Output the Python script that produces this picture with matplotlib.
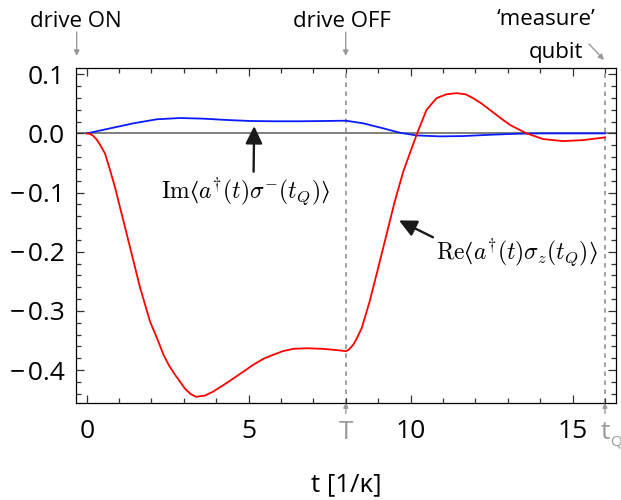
import matplotlib

matplotlib.use("Agg")
import matplotlib.pyplot as plt  # noqa: E402
from matplotlib.patches import FancyArrowPatch  # noqa: E402
from matplotlib.ticker import FixedLocator, MultipleLocator  # noqa: E402

# curvas (t em unidades de 1/kappa)
t_re = [0.0, 0.1, 0.2, 0.3, 0.4, 0.565, 0.7, 0.873, 1.0, 1.13, 1.39, 1.65,
        1.95, 2.2, 2.37, 2.55, 2.73, 3.03, 3.2, 3.37, 3.65, 3.91, 4.2, 4.53,
        4.85, 5.14, 5.45, 5.76, 6.05, 6.38, 6.79, 7.3, 7.7, 8.0, 8.1, 8.23,
        8.35, 8.49, 8.74, 9.0, 9.26, 9.51, 9.77, 10.0, 10.2, 10.49, 10.8,
        11.1, 11.42, 11.7, 11.93, 12.2, 12.45, 12.75, 13.07, 13.58, 14.1,
        14.71, 15.33, 16.0]
re_vals = [0.0, -0.001, -0.004, -0.010, -0.018, -0.034, -0.058, -0.091,
           -0.119, -0.147, -0.204, -0.261, -0.317, -0.350, -0.374, -0.393,
           -0.408, -0.431, -0.440, -0.445, -0.443, -0.436, -0.426, -0.414,
           -0.402, -0.391, -0.381, -0.374, -0.368, -0.364, -0.363, -0.364,
           -0.366, -0.368, -0.365, -0.357, -0.345, -0.329, -0.283, -0.227,
           -0.170, -0.115, -0.065, -0.030, 0.0, 0.0396, 0.0595, 0.066, 0.068,
           0.066, 0.0595, 0.050, 0.0396, 0.027, 0.0142, 0.0, -0.0096, -0.013,
           -0.0113, -0.0068]

t_im = [0.0, 0.72, 1.44, 2.16, 2.88, 3.6, 4.32, 5.04, 5.76, 6.58, 7.4, 8.0,
        8.54, 9.16, 9.67, 10.18, 10.9, 11.62, 12.45, 13.27, 14.0, 16.0]
im_vals = [0.0, 0.0085, 0.017, 0.0238, 0.026, 0.0249, 0.0227, 0.021, 0.0205,
           0.0205, 0.021, 0.0215, 0.017, 0.0085, 0.0011, -0.0034, -0.005,
           -0.0045, -0.0023, -0.0006, 0.0, 0.0]

T_OFF = 8.0   # drive desligado
T_Q = 16.0    # medida do qubit
x_major = [0, 5, 10, 15]
y_major = [0.1, 0.0, -0.1, -0.2, -0.3, -0.4]
y_labels = ["0.1", "0.0", "\u2212\u200a0.1", "\u2212\u200a0.2",
            "\u2212\u200a0.3", "\u2212\u200a0.4"]

CINZA = "#9a9a9a"
W, H = 621, 500
FS = 19

plt.rcParams.update({
    "font.family": ["Open Sans", "DejaVu Sans"],
    "mathtext.fontset": "cm",
    "axes.linewidth": 0.9,
})

fig = plt.figure(figsize=(W / 100, H / 100), dpi=100)
ax = fig.add_axes([75.7 / W, 1 - 402.7 / H, (616.3 - 75.7) / W, (402.7 - 68.3) / H])

ax.axhline(0, color="#6a6a6a", lw=1.2, zorder=1)
for xv in (T_OFF, T_Q):
    ax.axvline(xv, color=CINZA, lw=1.3, ls=(0, (2.5, 2.5)), zorder=1)
ax.plot(t_im, im_vals, color="#0a1cff", lw=1.3, zorder=3)
ax.plot(t_re, re_vals, color="#ff0000", lw=1.3, zorder=3)

ax.set_xlim(-0.34, 16.35)
ax.set_ylim(-0.455, 0.11)
ax.xaxis.set_major_locator(FixedLocator(x_major))
ax.xaxis.set_minor_locator(MultipleLocator(1))
ax.set_yticks(y_major)
ax.set_yticklabels(y_labels)
ax.yaxis.set_minor_locator(MultipleLocator(0.02))
ax.tick_params(which="both", direction="in", top=True, right=True,
               labelsize=FS, width=0.9, color="#333333")
ax.tick_params(which="major", length=6)
ax.tick_params(which="minor", length=3.5)
ax.tick_params(axis="x", pad=12)
ax.tick_params(axis="y", pad=8)
ax.set_xlabel("t [1/\u03ba]", fontsize=18.5, labelpad=20)

# rotulos T e t_Q abaixo do eixo, com setinhas
xt = ax.get_xaxis_transform()
ax.text(T_OFF, -0.109, "T", transform=xt, color=CINZA, fontsize=FS,
        ha="center", va="baseline")
ax.text(T_Q, -0.109, "t", transform=xt, color=CINZA, fontsize=FS,
        ha="center", va="baseline")
ax.text(T_Q + 0.17, -0.127, "Q", transform=xt, color=CINZA, fontsize=11,
        ha="left", va="baseline")
for xv in (T_OFF, T_Q):
    ax.annotate("", xy=(xv, 0.0), xytext=(xv, -0.032), xycoords=xt,
                arrowprops=dict(arrowstyle="-|>", color=CINZA, lw=1.0,
                                mutation_scale=7, shrinkA=0, shrinkB=0),
                annotation_clip=False)

# rotulos das curvas
seta = dict(arrowstyle="-|>,head_length=0.62,head_width=0.3",
            color="#1a1a1a", lw=1.7, shrinkA=1, shrinkB=0)
ax.annotate("$\\mathrm{Im}\u27e8a^{\\dagger}(t)\\sigma^{-}(t_Q)\u27e9$",
            xy=(5.17, 0.0124), xytext=(4.89, -0.099), fontsize=17,
            ha="center", va="center",
            arrowprops=dict(seta, relpos=(0.55, 1.0)))
ax.annotate("$\\mathrm{Re}\u27e8a^{\\dagger}(t)\\sigma_z(t_Q)\u27e9$",
            xy=(9.64, -0.147), xytext=(13.27, -0.201), fontsize=17,
            ha="center", va="center",
            arrowprops=dict(seta, relpos=(0.03, 0.85), shrinkA=0))


# anotacoes no topo (coordenadas em pixels da figura)
def px(x, y):
    return x / W, 1 - y / H


fig.text(*px(76, 27), "drive ON", fontsize=16, ha="center", va="baseline")
fig.text(*px(342, 27), "drive OFF", fontsize=16, ha="center", va="baseline")
fig.text(*px(546, 25), "\u2018measure\u2019", fontsize=16, ha="center", va="baseline")
fig.text(*px(556, 58), "qubit", fontsize=16, ha="center", va="baseline")
for (x0, y0), (x1, y1) in [((76.7, 32), (76.7, 56)), ((345.7, 32), (345.7, 56)),
                           ((589, 44), (604, 60))]:
    fig.add_artist(FancyArrowPatch(
        px(x0, y0), px(x1, y1), transform=fig.transFigure,
        arrowstyle="-|>", mutation_scale=8, color=CINZA, lw=1.0,
        shrinkA=0, shrinkB=0))

fig.savefig("out.png", dpi=100)
